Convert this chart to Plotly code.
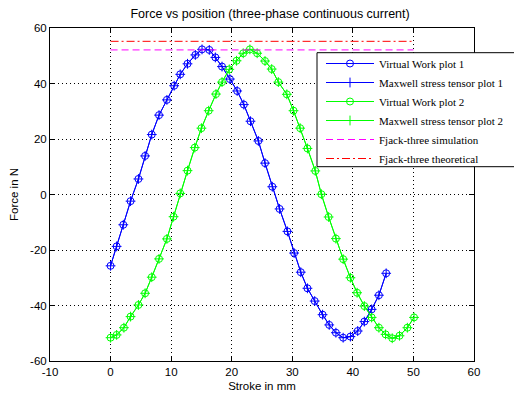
import plotly.graph_objects as go

# Data
blue_x = [0.0, 1.0, 2.1, 3.3, 4.6, 5.7, 6.8, 8.0, 9.3, 10.5, 11.5, 12.7, 14.0, 15.1, 16.3,
          17.3, 18.4, 19.7, 20.9, 22.0, 23.1, 24.4, 25.5, 26.7, 27.9, 29.2, 30.3, 31.4, 32.5,
          33.7, 35.0, 36.1, 37.2, 38.4, 39.6, 40.8, 41.9, 43.1, 44.3, 45.5]
blue_y = [-25.7, -18.7, -10.9, -2.4, 5.6, 13.9, 21.6, 28.6, 34.1, 39.2, 43.3, 47.1, 50.3, 52.3, 52.1,
          49.4, 46.1, 41.6, 37.3, 32.4, 26.4, 19.3, 11.3, 2.8, -5.2, -13.3, -21.1, -28.0, -33.8,
          -38.4, -43.3, -47.0, -49.8, -51.6, -51.2, -49.2, -45.8, -41.4, -36.3, -28.4]

green_x = [0.0, 1.0, 2.2, 3.3, 4.6, 5.7, 6.8, 8.0, 9.3, 10.4, 11.5, 12.7, 13.9, 15.0, 16.2,
           17.4, 18.4, 19.6, 20.8, 21.9, 23.0, 24.2, 25.5, 26.6, 27.7, 29.1, 30.2, 31.3, 32.5,
           33.8, 34.8, 36.0, 37.2, 38.4, 39.6, 40.7, 41.9, 43.1, 44.3, 45.4, 46.5, 47.7, 49.0, 50.1]
green_y = [-51.6, -50.6, -48.0, -44.0, -39.8, -35.6, -29.8, -23.2, -16.0, -8.0, 0.4, 8.6, 16.9, 23.9, 30.2,
           36.2, 40.5, 45.1, 48.2, 50.9, 52.3, 50.9, 48.1, 45.2, 40.5, 36.1, 30.2, 23.9, 16.6,
           8.5, 0.1, -8.1, -15.9, -23.3, -30.0, -35.4, -40.2, -44.3, -48.0, -50.4, -51.8, -50.9, -48.0, -44.3]

ref_x = [0, 50]
fjack_sim = [52.1, 52.1]
fjack_theo = [55.2, 55.2]

x_ticks = [-10, 0, 10, 20, 30, 40, 50, 60]
y_ticks = [-60, -40, -20, 0, 20, 40, 60]

BLUE = "#0000ff"
GREEN = "#00ff00"

fig = go.Figure()
fig.add_trace(go.Scatter(x=blue_x, y=blue_y, mode="lines+markers", name="Virtual Work plot 1",
                         line=dict(color=BLUE, width=1),
                         marker=dict(symbol="circle-open", size=7, color=BLUE, line=dict(width=1, color=BLUE))))
fig.add_trace(go.Scatter(x=blue_x, y=blue_y, mode="lines+markers", name="Maxwell stress tensor plot 1",
                         line=dict(color=BLUE, width=1),
                         marker=dict(symbol="cross-thin", size=7, color=BLUE, line=dict(width=1, color=BLUE))))
fig.add_trace(go.Scatter(x=green_x, y=green_y, mode="lines+markers", name="Virtual Work plot 2",
                         line=dict(color=GREEN, width=1),
                         marker=dict(symbol="circle-open", size=7, color=GREEN, line=dict(width=1, color=GREEN))))
fig.add_trace(go.Scatter(x=green_x, y=green_y, mode="lines+markers", name="Maxwell stress tensor plot 2",
                         line=dict(color=GREEN, width=1),
                         marker=dict(symbol="cross-thin", size=7, color=GREEN, line=dict(width=1, color=GREEN))))
fig.add_trace(go.Scatter(x=ref_x, y=fjack_sim, mode="lines", name="Fjack-three simulation",
                         line=dict(color="#ff00ff", width=1, dash="7px,4px")))
fig.add_trace(go.Scatter(x=ref_x, y=fjack_theo, mode="lines", name="Fjack-three theoretical",
                         line=dict(color="#ff0000", width=1, dash="8px,3px,2px,3px")))

axis_common = dict(showline=True, linecolor="black", linewidth=1, mirror="ticks",
                   ticks="inside", ticklen=5, tickcolor="black",
                   showgrid=True, gridcolor="black", gridwidth=1, griddash="1px,3px",
                   zeroline=False, tickfont=dict(family="Liberation Sans", size=11.5, color="black"))

fig.update_xaxes(range=[-10, 60], tickvals=x_ticks, ticktext=[str(v) for v in x_ticks],
                 title=dict(text="Stroke in mm", font=dict(family="Liberation Sans", size=11.5, color="black"), standoff=5),
                 **axis_common)
fig.update_yaxes(range=[-60, 60], tickvals=y_ticks, ticktext=[str(v) for v in y_ticks],
                 title=dict(text="Force in N", font=dict(family="Liberation Sans", size=11.5, color="black"), standoff=14),
                 **axis_common)

# legend frame (extends past the right edge like the reference)
fig.add_shape(type="rect", xref="paper", yref="paper",
              x0=(317 - 50) / 424, x1=(540 - 50) / 424,
              y0=(361 - 166.7) / 333, y1=(361 - 52.7) / 333,
              line=dict(color="black", width=1), fillcolor="white", layer="above")

fig.update_layout(
    width=522, height=399,
    margin=dict(l=42, r=56, t=20, b=46, autoexpand=False),
    paper_bgcolor="white", plot_bgcolor="white",
    title=dict(text="Force vs position (three-phase continuous current)", x=0.502, xanchor="center",
               yref="container", y=1 - 5.5 / 399, yanchor="middle",
               font=dict(family="Liberation Sans", size=12.5, color="black")),
    showlegend=True,
    legend=dict(x=(321 - 50) / 424, y=(361 - 49) / 333, xanchor="left", yanchor="top",
                bgcolor="rgba(0,0,0,0)", borderwidth=0,
                font=dict(family="Liberation Serif", size=11, color="black"),
                tracegroupgap=0, itemwidth=48),
)

fig.write_html("out.html")
